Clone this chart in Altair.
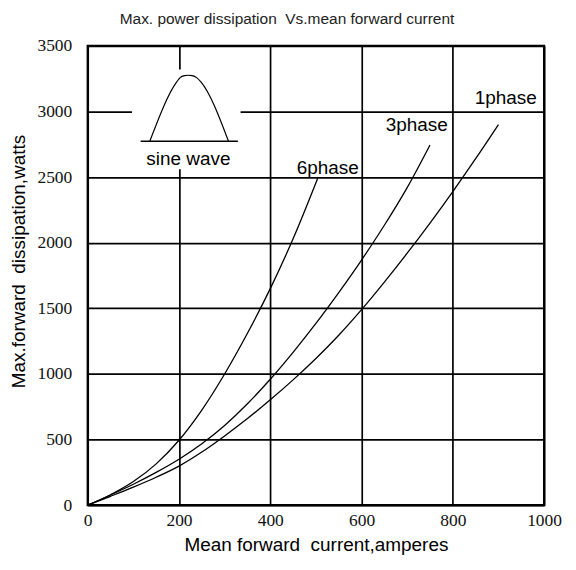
import altair as alt
import pandas as pd

# ---- curve data ----
x6 = [0, 50, 100, 150, 200, 250, 300, 350, 400, 450, 505]
y6 = [0, 80, 180, 315, 495, 725, 1000, 1310, 1650, 2030, 2500]

x3 = [0, 50, 100, 150, 200, 250, 300, 350, 400, 450, 500, 550, 600, 650, 700, 750]
y3 = [0, 78, 160, 250, 350, 468, 608, 773, 960, 1165, 1385, 1620, 1868, 2133, 2420, 2745]

x1 = [0, 50, 100, 150, 200, 250, 300, 350, 400, 450, 500, 550, 600, 650, 700, 750, 800, 850, 900]
y1 = [0, 68, 138, 213, 298, 405, 528, 660, 803, 955, 1118, 1295, 1490, 1700, 1920, 2150, 2390, 2640, 2900]

series_names = ["6phase", "3phase", "1phase"]
label_x = [594, 789, 984]
label_y = [2522, 2849, 3057]

# ---- inset "sine wave" icon ----
icon_box_x = [97]
icon_box_x2 = [335]
icon_box_y = [2560]
icon_box_y2 = [3320]
icon_x = [136, 195, 202.5, 212, 220.5, 229, 238.6, 248, 308.5]
icon_y = [2773, 3225, 3258, 3273, 3276, 3273, 3258, 3225, 2773]
icon_base_x = [116]
icon_base_x2 = [329]
icon_base_y = [2773]
icon_text = ["sine wave"]
icon_text_x = [220.5]
icon_text_y = [2590]

x_ticks = [0, 200, 400, 600, 800, 1000]
y_ticks = [0, 500, 1000, 1500, 2000, 2500, 3000, 3500]

NB = "\u00a0"
title_text = "Max. power dissipation " + NB + "Vs.mean forward current"
x_title = "Mean " + "forward " + NB + "current,amperes"
y_title = "Max.forward " + NB + "dissipation,watts"

SERIF = "Liberation Serif, Times New Roman, DejaVu Serif, serif"

rows = []
for name, xs, ys in zip(series_names, [x6, x3, x1], [y6, y3, y1]):
    for a, b in zip(xs, ys):
        rows.append({"series": name, "x": a, "y": b})
curves_df = pd.DataFrame(rows)

xscale = alt.Scale(domain=[0, 1000], nice=False, zero=False)
yscale = alt.Scale(domain=[0, 3500], nice=False, zero=False)

x_axis = alt.Axis(values=x_ticks, format="d", title=x_title,
                  labelFont=SERIF, labelFontSize=17.5)
y_axis = alt.Axis(values=y_ticks, format="d", title=y_title,
                  labelFont=SERIF, labelFontSize=17.5,
                  titleX=-69, titleY=216, titleBaseline="middle", titleAlign="center", titleAngle=270)

curves = alt.Chart(curves_df).mark_line(
    color="black", strokeWidth=1.3, interpolate="monotone"
).encode(
    x=alt.X("x:Q", scale=xscale, axis=x_axis),
    y=alt.Y("y:Q", scale=yscale, axis=y_axis),
    detail="series:N",
)

labels_df = pd.DataFrame({"t": series_names, "x": label_x, "y": label_y})
labels = alt.Chart(labels_df).mark_text(
    align="right", baseline="alphabetic", font="Liberation Sans", fontSize=19, color="black"
).encode(x=alt.X("x:Q"), y=alt.Y("y:Q"), text="t:N")

box_df = pd.DataFrame({"x": icon_box_x, "x2": icon_box_x2, "y": icon_box_y, "y2": icon_box_y2})
box = alt.Chart(box_df).mark_rect(color="white").encode(
    x=alt.X("x:Q"), x2="x2:Q", y=alt.Y("y:Q"), y2="y2:Q"
)

icon_df = pd.DataFrame({"x": icon_x, "y": icon_y, "o": list(range(len(icon_x)))})
icon = alt.Chart(icon_df).mark_line(color="black", strokeWidth=1.2, interpolate="monotone").encode(
    x=alt.X("x:Q"), y=alt.Y("y:Q"), order="o:Q"
)

base_df = pd.DataFrame({"x": icon_base_x, "x2": icon_base_x2, "y": icon_base_y})
base = alt.Chart(base_df).mark_rule(color="black", strokeWidth=1.4).encode(
    x=alt.X("x:Q"), x2="x2:Q", y=alt.Y("y:Q")
)

itext_df = pd.DataFrame({"t": icon_text, "x": icon_text_x, "y": icon_text_y})
itext = alt.Chart(itext_df).mark_text(
    align="center", baseline="alphabetic", font="Liberation Sans", fontSize=19, color="black"
).encode(x=alt.X("x:Q"), y=alt.Y("y:Q"), text="t:N")

chart = alt.layer(curves, box, icon, base, itext, labels).properties(
    width=458,
    height=461,
    title=alt.TitleParams(
        title_text,
        font="Liberation Sans", fontSize=15.5, fontWeight="normal", color="#222",
        anchor="middle", dx=-29, offset=9,
    ),
    autosize=alt.AutoSizeParams(type="none"),
    padding={"left": 80, "top": 37, "right": 24, "bottom": 52},
).configure_view(
    stroke="black", strokeWidth=2.2
).configure_axis(
    grid=True, gridColor="black", gridWidth=1.7, gridOpacity=1,
    ticks=False, domain=False, labelFlush=False,
    labelFont=SERIF, labelFontSize=17.5, labelColor="#111",
    titleFont="Liberation Sans", titleFontSize=19, titleFontWeight="normal", titleColor="black",
).configure_axisX(
    labelPadding=6, titlePadding=7
).configure_axisY(
    labelPadding=16
)

chart.save("out.html", embed_options={"renderer": "svg", "actions": False})
